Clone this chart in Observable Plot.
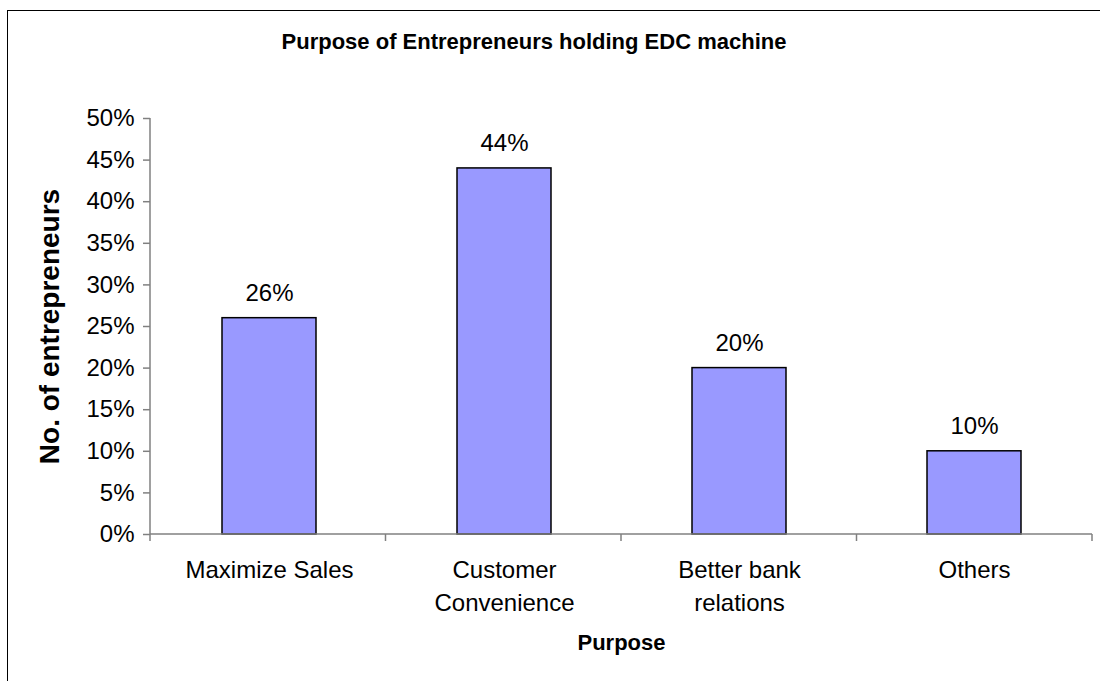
<!DOCTYPE html>
<html>
<head>
<meta charset="utf-8">
<script src="https://cdn.jsdelivr.net/npm/d3@7"></script>
<script src="https://cdn.jsdelivr.net/npm/@observablehq/plot@0.6"></script>
<style>
  html, body { margin: 0; padding: 0; background: #fff; overflow: hidden; }
  #wrap { position: relative; width: 1100px; height: 681px; overflow: hidden; font-family: "Liberation Sans", Arial, sans-serif; }
  #frame { position: absolute; left: 7px; top: 10px; width: 1300px; height: 900px; border: 1px solid #000; box-sizing: border-box; }
  #title { position: absolute; left: 0; top: 31px; width: 1068px; text-align: center; font-weight: bold; font-size: 22px; line-height: 22px; color: #000; }
  #chart { position: absolute; left: 0; top: 0; }
</style>
</head>
<body>
<div id="wrap">
  <div id="frame"></div>
  <div id="chart"></div>
  <div id="title">Purpose of Entrepreneurs holding EDC machine</div>
</div>
<script>
const categories = ["Maximize Sales", "Customer Convenience", "Better bank relations", "Others"];
const values = [0.26, 0.44, 0.20, 0.10];
const tickLabels = ["Maximize Sales", "Customer\nConvenience", "Better bank\nrelations", "Others"];
const yTicks = [0, 0.05, 0.10, 0.15, 0.20, 0.25, 0.30, 0.35, 0.40, 0.45, 0.50];
const yLabel = "No. of entrepreneurs";
const xLabel = "Purpose";

const data = categories.map((c, i) => ({category: c, value: values[i]}));
const pct = d3.format(".0%");
const axisGray = "#808080";

function axisLines(index, scales, vals, dims) {
  const y = scales.y;
  const left = dims.marginLeft;
  const right = dims.width - dims.marginRight;
  const step = (right - left) / categories.length;
  const y0 = y(0), yTop = y(yTicks[yTicks.length - 1]);
  const g = d3.create("svg:g").attr("stroke", axisGray).attr("stroke-width", 1.5).attr("fill", "none");
  g.append("line").attr("x1", left).attr("x2", left).attr("y1", yTop).attr("y2", y0);
  g.append("line").attr("x1", left).attr("x2", right).attr("y1", y0).attr("y2", y0);
  for (let i = 0; i <= categories.length; i++) {
    const xx = left + i * step;
    g.append("line").attr("x1", xx).attr("x2", xx).attr("y1", y0).attr("y2", y0 + 7);
  }
  return g.node();
}

const chart = Plot.plot({
  width: 1100,
  height: 681,
  marginLeft: 150,
  marginRight: 8,
  marginTop: 118,
  marginBottom: 147,
  style: {fontFamily: "'Liberation Sans', Arial, sans-serif", fontSize: "24px", color: "#000", background: "transparent", overflow: "visible"},
  x: {domain: categories, paddingInner: 0.6, paddingOuter: 0.3, label: null},
  y: {domain: [0, 0.5], label: null},
  marks: [
    Plot.barY(data, {x: "category", y: "value", fill: "#9999FF", stroke: "#000", strokeWidth: 1.5}),
    axisLines,
    Plot.axisY({ticks: yTicks, tickFormat: pct, tickSize: 7, tickPadding: 9, stroke: axisGray, strokeWidth: 1.5, fontSize: 24, label: null}),
    Plot.axisX({tickSize: 0, tickPadding: 20, fontSize: 24, lineHeight: 1.375, tickFormat: d => tickLabels[categories.indexOf(d)], label: null}),
    Plot.text(data, {x: "category", y: "value", text: d => pct(d.value), dy: -17, lineAnchor: "bottom", fontSize: 24, fill: "#000"}),
    Plot.text([yLabel], {frameAnchor: "left", textAnchor: "middle", lineAnchor: "middle", rotate: -90, dx: -100, fontSize: 28, fontWeight: "bold", fill: "#000"}),
    Plot.text([xLabel], {frameAnchor: "bottom", textAnchor: "middle", lineAnchor: "bottom", dy: 115, fontSize: 22, fontWeight: "bold", fill: "#000"})
  ]
});
document.getElementById("chart").appendChild(chart);
</script>
</body>
</html>
